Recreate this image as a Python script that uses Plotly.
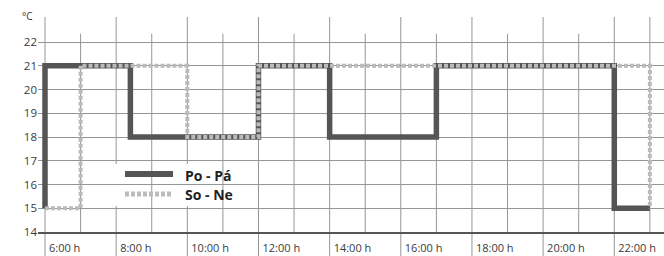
import plotly.graph_objects as go

# ---- data ----
po_pa_hours = [6, 6, 8.4, 12, 14, 17, 22, 23]
po_pa_temps = [15, 21, 18, 21, 18, 21, 15, 15]
so_ne_hours = [6, 7, 10, 12, 23]
so_ne_temps = [15, 21, 18, 21, 15]
series_names = ["Po - Pá", "So - Ne"]

x_tick_vals = [6, 8, 10, 12, 14, 16, 18, 20, 22]
x_tick_text = ["6:00 h", "8:00 h", "10:00 h", "12:00 h", "14:00 h",
               "16:00 h", "18:00 h", "20:00 h", "22:00 h"]
y_tick_vals = [14, 15, 16, 17, 18, 19, 20, 21, 22]
grid_hours = list(range(6, 24))

# ---- layout geometry ----
W, H = 664, 256
ML, MR, MT, MB = 38, 0, 17, 24
PW, PH = W - ML - MR, H - MT - MB
X_RANGE = [5.8033, 5.8033 + PW / 35.58]
Y_RANGE = [14, 14 + PH / 23.75]

def px(x):
    return (x - ML) / PW

def py(y):
    return (H - MB - y) / PH

DARK = "#555555"
LIGHT = "#bbbbbb"
GRID = "#959595"
FONT = "Open Sans"

fig = go.Figure()
fig.add_trace(go.Scatter(x=po_pa_hours, y=po_pa_temps, mode="lines",
                         line=dict(shape="hv", color=DARK, width=5.5),
                         name=series_names[0], showlegend=False))
fig.add_trace(go.Scatter(x=so_ne_hours, y=so_ne_temps, mode="lines",
                         line=dict(shape="hv", color=LIGHT, width=4, dash="4px,2px"),
                         name=series_names[1], showlegend=False))

shapes = []
odd_top = 22.35
for h in grid_hours:
    tall = (h % 2 == 0) or h == 23
    if tall:
        y0 = -MB / PH if h % 2 == 0 else 0
        shapes.append(dict(type="line", xref="x", yref="paper", x0=h, x1=h,
                           y0=y0, y1=1, line=dict(color=GRID, width=1), layer="below"))
    else:
        shapes.append(dict(type="line", xref="x", yref="y", x0=h, x1=h,
                           y0=14, y1=odd_top, line=dict(color=GRID, width=1), layer="below"))

# custom legend
shapes.append(dict(type="rect", xref="paper", yref="paper",
                   x0=px(103), x1=px(254), y0=py(206), y1=py(164),
                   fillcolor="white", line=dict(width=0), layer="below"))
shapes.append(dict(type="line", xref="paper", yref="paper",
                   x0=px(125), x1=px(173), y0=py(174), y1=py(174),
                   line=dict(color=DARK, width=6), layer="above"))
shapes.append(dict(type="line", xref="paper", yref="paper",
                   x0=px(125), x1=px(173), y0=py(194), y1=py(194),
                   line=dict(color=LIGHT, width=5, dash="4px,2px"), layer="above"))

annotations = [
    dict(text=series_names[0], xref="paper", yref="paper", x=px(183), y=py(175),
         xanchor="left", yanchor="middle", showarrow=False,
         font=dict(family=FONT, size=14, color="#222222", weight="bold")),
    dict(text=series_names[1], xref="paper", yref="paper", x=px(183), y=py(194),
         xanchor="left", yanchor="middle", showarrow=False,
         font=dict(family=FONT, size=14, color="#222222", weight="bold")),
    dict(text="°C", xref="paper", yref="paper", x=px(27), y=py(16.5),
         xanchor="center", yanchor="middle", showarrow=False,
         font=dict(family=FONT, size=10, color="#333333")),
]

fig.update_layout(
    width=W, height=H,
    margin=dict(l=ML, r=MR, t=MT, b=MB, pad=0),
    paper_bgcolor="white", plot_bgcolor="white",
    shapes=shapes, annotations=annotations,
    showlegend=False,
    font=dict(family=FONT, size=11, color="#3a3a3a"),
)
fig.update_xaxes(range=X_RANGE, tickvals=x_tick_vals, ticktext=x_tick_text,
                 ticklabelposition="outside right", ticks="", showgrid=False,
                 ticklabelshift=3, ticklabelstandoff=5,
                 automargin=False,
                 zeroline=False, showline=True, linecolor="#555555", linewidth=2,
                 tickfont=dict(family=FONT, size=11, color="#3a3a3a"))
fig.update_yaxes(range=Y_RANGE, tickvals=y_tick_vals, ticks="", showgrid=True,
                 automargin=False,
                 gridcolor=GRID, gridwidth=1, zeroline=False, showline=False,
                 tickfont=dict(family=FONT, size=11.5, color="#3a3a3a"))

fig.write_html("out.html", config={"displayModeBar": False},
               post_script="document.body.style.margin='0';document.body.style.overflow='hidden';")
